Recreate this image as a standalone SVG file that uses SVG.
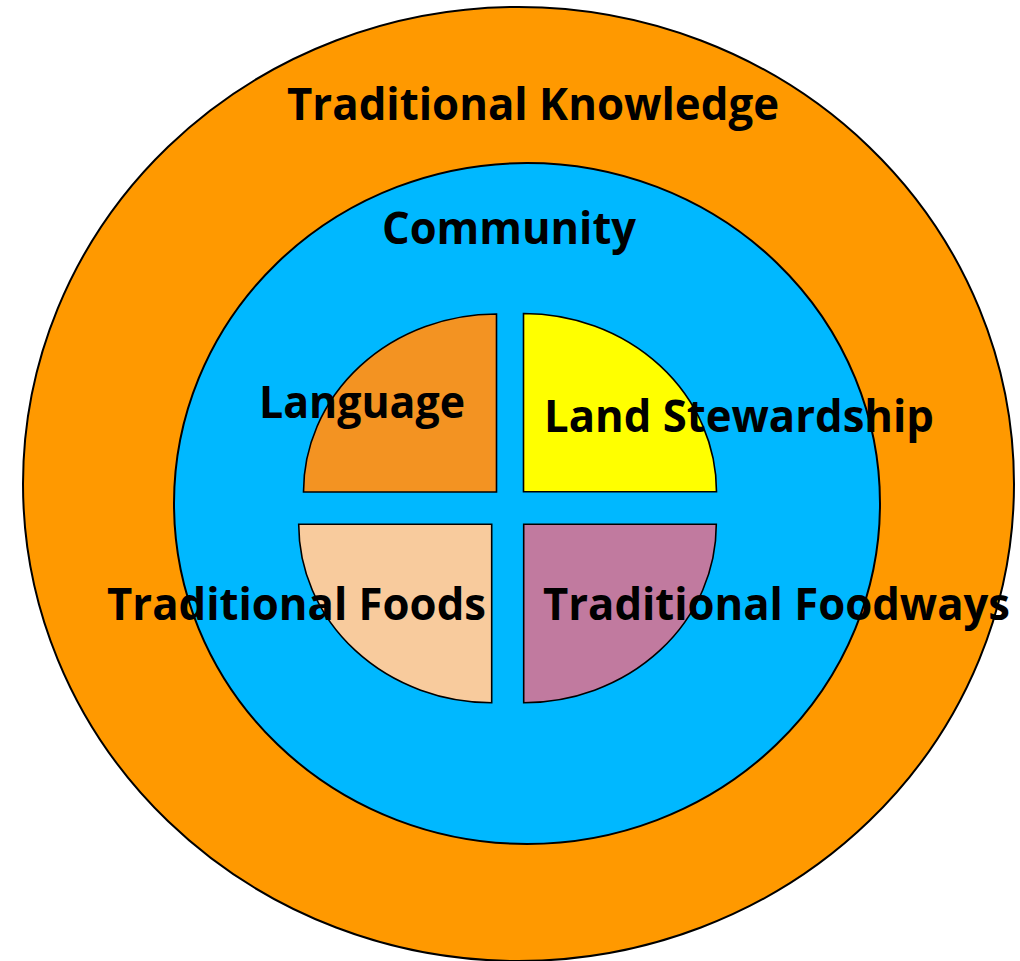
<svg xmlns="http://www.w3.org/2000/svg" width="1020" height="961" viewBox="0 0 1020 961">
<style>
.ring{stroke:#000;stroke-width:2}
.q{stroke:#000;stroke-width:1.6;stroke-linejoin:miter}
.t{font-family:"Open Sans","Liberation Sans",sans-serif;font-weight:bold;font-size:45px;fill:#000}
</style>
<rect width="1020" height="961" fill="#fff"/>
<g id="traditional-knowledge">
<ellipse class="ring" cx="518.5" cy="484" rx="495.5" ry="477" fill="#FF9900"/>
</g>
<g id="community">
<ellipse class="ring" cx="527" cy="503.5" rx="353" ry="340.5" fill="#00B8FF"/>
</g>
<g id="language">
<path class="q" d="M496.5,492 L303.5,492 A193,178 0 0 1 496.5,314 Z" fill="#F39322"/>
</g>
<g id="land-stewardship">
<path class="q" d="M523.5,491.7 L523.5,313.5 A193,178.2 0 0 1 716.5,491.7 Z" fill="#FFFF00"/>
</g>
<g id="traditional-foods">
<path class="q" d="M491.7,524.3 L491.7,702.7 A193,178.4 0 0 1 298.7,524.3 Z" fill="#F8CB9D"/>
</g>
<g id="traditional-foodways">
<path class="q" d="M523.7,524.3 L716.3,524.3 A192.6,178.4 0 0 1 523.7,702.7 Z" fill="#C17A9F"/>
</g>
<g id="labels">
<text class="t" x="287" y="120" textLength="492" lengthAdjust="spacingAndGlyphs">Traditional Knowledge</text>
<text class="t" x="382" y="244" textLength="254" lengthAdjust="spacingAndGlyphs">Community</text>
<text class="t" x="259" y="418" textLength="206" lengthAdjust="spacingAndGlyphs">Language</text>
<text class="t" x="544" y="432" textLength="390" lengthAdjust="spacingAndGlyphs">Land Stewardship</text>
<text class="t" x="107" y="620" textLength="379" lengthAdjust="spacingAndGlyphs">Traditional Foods</text>
<text class="t" x="543" y="620" textLength="467" lengthAdjust="spacingAndGlyphs">Traditional Foodways</text>
</g>
</svg>
